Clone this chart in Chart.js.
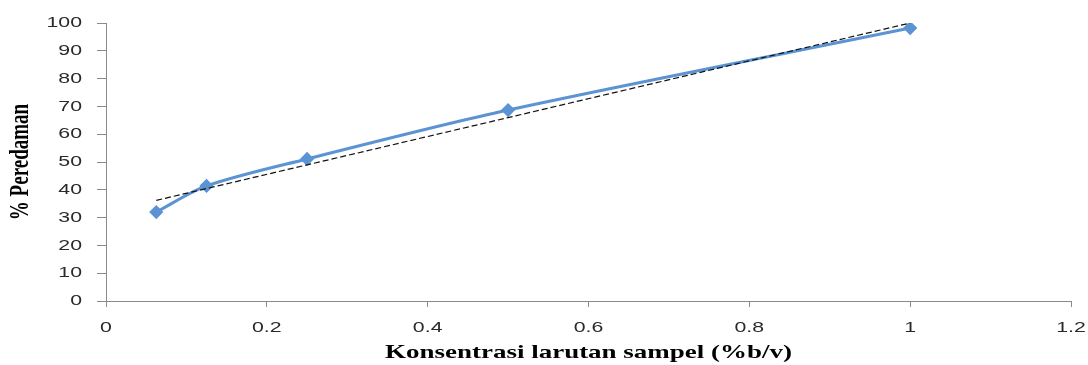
<!DOCTYPE html>
<html>
<head>
<meta charset="utf-8">
<script src="https://cdn.jsdelivr.net/npm/chart.js@4"></script>
<style>
html,body{margin:0;padding:0;background:#fff;}
#wrap{width:1088px;height:365px;position:relative;}
</style>
</head>
<body>
<div id="wrap"><canvas id="c" width="1088" height="365"></canvas></div>
<script>
const concentrations = [0.0625, 0.125, 0.25, 0.5, 1];
const peredaman = [32, 41.4, 51.1, 68.7, 98.2];
const trendX = [0.0625, 1];
const trendY = [36.2, 100];
const xTicks = ["0", "0.2", "0.4", "0.6", "0.8", "1", "1.2"];
const yTicks = [0, 10, 20, 30, 40, 50, 60, 70, 80, 90, 100];

const seriesPts = concentrations.map((x, i) => ({x: x, y: peredaman[i]}));
const trendPts = trendX.map((x, i) => ({x: x, y: trendY[i]}));

// the reference text is horizontally stretched; widen glyphs around their anchor in screen space
const canvas = document.getElementById('c');
const ctx = canvas.getContext('2d');
const TEXT_STRETCH = 1.42;
const origFillText = ctx.fillText.bind(ctx);
ctx.fillText = function(text, x, y, maxW) {
  const m = ctx.getTransform();
  const p = m.transformPoint(new DOMPoint(x, y));
  const s = new DOMMatrix().translate(p.x, p.y).scale(TEXT_STRETCH, 1).translate(-p.x, -p.y).multiply(m);
  ctx.setTransform(s);
  if (maxW !== undefined) origFillText(text, x, y, maxW); else origFillText(text, x, y);
  ctx.setTransform(m);
};

new Chart(canvas, {
  type: 'scatter',
  data: {
    datasets: [
      {
        label: 'Trend',
        data: trendPts,
        showLine: true,
        borderColor: '#111',
        borderWidth: 1.2,
        borderDash: [6, 3],
        pointRadius: 0,
        fill: false
      },
      {
        label: '% Peredaman',
        data: seriesPts,
        showLine: true,
        borderColor: '#5b93d3',
        backgroundColor: '#5b93d3',
        borderWidth: 3,
        pointStyle: 'rectRot',
        pointRadius: 5,
        pointHoverRadius: 5,
        tension: 0.3,
        fill: false
      }
    ]
  },
  options: {
    responsive: false,
    animation: false,
    layout: {padding: {top: 23, right: 0, left: 0, bottom: 0}},
    plugins: {legend: {display: false}, tooltip: {enabled: false}},
    scales: {
      x: {
        type: 'linear',
        min: 0, max: 1.2,
        afterFit: s => { s.height = 64; s.paddingRight = 17; s.paddingLeft = 0; },
        afterBuildTicks: s => { s.ticks = xTicks.map(t => ({value: parseFloat(t)})); },
        ticks: {
          callback: (v, i) => xTicks[i],
          font: {family: 'Liberation Sans', size: 15},
          color: '#2a2a2a',
          padding: 12,
          maxRotation: 0
        },
        grid: {drawOnChartArea: false, drawTicks: true, tickLength: 6, color: '#8a8a8a'},
        border: {color: '#8a8a8a', width: 1},
        title: {
          display: true,
          text: 'Konsentrasi larutan sampel (%b/v)',
          font: {family: 'Liberation Serif', size: 19, weight: 'bold'},
          color: '#000',
          padding: {top: 0, bottom: 1}
        }
      },
      y: {
        min: 0, max: 100,
        afterFit: s => { s.width = 106; s.paddingTop = 0; s.paddingBottom = 0; },
        afterBuildTicks: s => { s.ticks = yTicks.map(v => ({value: v})); },
        ticks: {
          font: {family: 'Liberation Sans', size: 15},
          color: '#2a2a2a',
          padding: 15
        },
        grid: {drawOnChartArea: false, drawTicks: true, tickLength: 9, color: '#8a8a8a'},
        border: {color: '#8a8a8a', width: 1},
        title: {
          display: true,
          text: '% Peredaman',
          font: {family: 'Liberation Serif', size: 19, weight: 'bold'},
          color: '#000',
          padding: {top: 10, bottom: 0}
        }
      }
    }
  }
});
</script>
</body>
</html>
